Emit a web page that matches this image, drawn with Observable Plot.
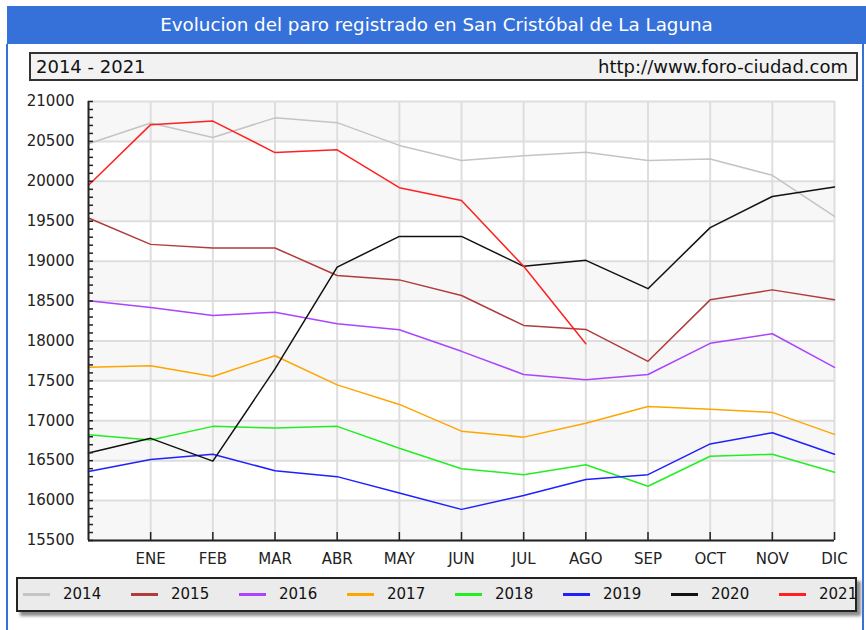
<!DOCTYPE html>
<html><head><meta charset="utf-8">
<script src="https://cdn.jsdelivr.net/npm/d3@7"></script>
<script src="https://cdn.jsdelivr.net/npm/@observablehq/plot@0.6"></script>
<style>
body{margin:0;background:#fff;font-family:"DejaVu Sans",Verdana,sans-serif;}
#wrap{position:relative;width:866px;height:630px;overflow:hidden;background:#fff;}
#bar{position:absolute;left:7px;top:6px;width:859px;height:38px;background:#3671d9;color:#fff;font-size:18.3px;line-height:38px;text-align:center;}
.vb{position:absolute;top:44px;width:2px;height:586px;background:#3671d9;}
#sub{position:absolute;left:29px;top:52px;width:829px;height:29px;box-sizing:border-box;border:2px solid #333;background:#f2f2f2;font-size:18px;color:#111;}
#sub span{position:absolute;top:0;line-height:25px;}
#chart{position:absolute;left:0;top:90px;}
#legend{position:absolute;left:16px;top:577px;width:841px;height:35px;box-sizing:border-box;border:2px solid #222;background:#ebebeb;box-shadow:4px 4px 3px #8a8a8a;}
.item{position:absolute;top:0;height:31px;}
.sw{position:absolute;top:14px;width:27px;height:3px;}
.lt{position:absolute;left:40px;top:0;line-height:31px;font-size:15px;color:#111;}
</style></head>
<body>
<div id="wrap">
  <div id="bar">Evolucion del paro registrado en San Cristóbal de La Laguna</div>
  <div class="vb" style="left:6px"></div>
  <div class="vb" style="left:862px"></div>
  <div id="sub"><span style="left:5px">2014 - 2021</span><span style="right:8px">http://www.foro-ciudad.com</span></div>
  <div id="chart"></div>
  <div id="legend"></div>
</div>
<script>
const months = ["ENE","FEB","MAR","ABR","MAY","JUN","JUL","AGO","SEP","OCT","NOV","DIC"];
const years = ["2014","2015","2016","2017","2018","2019","2020","2021"];
const colors = ["#c4c4c4","#b03c3c","#aa44ff","#ffa500","#22ee22","#2020ff","#111111","#ff2020"];
const yTicks = [15500,16000,16500,17000,17500,18000,18500,19000,19500,20000,20500,21000];

const s2014 = [20470, 20730, 20550, 20795, 20735, 20450, 20260, 20320, 20365, 20260, 20280, 20075, 19560];
const s2015 = [19540, 19210, 19165, 19165, 18820, 18765, 18570, 18195, 18145, 17745, 18515, 18640, 18515];
const s2016 = [18505, 18420, 18320, 18360, 18215, 18140, 17870, 17580, 17515, 17580, 17970, 18090, 17670];
const s2017 = [17670, 17690, 17555, 17815, 17450, 17205, 16870, 16795, 16970, 17180, 17145, 17105, 16830];
const s2018 = [16825, 16760, 16930, 16910, 16930, 16655, 16400, 16325, 16450, 16180, 16555, 16580, 16355];
const s2019 = [16365, 16515, 16580, 16375, 16300, 16095, 15890, 16065, 16265, 16325, 16710, 16850, 16580];
const s2020 = [16595, 16780, 16495, 17650, 18925, 19310, 19310, 18935, 19010, 18655, 19420, 19810, 19930];
const s2021 = [19950, 20710, 20755, 20360, 20395, 19920, 19760, 18935, 17965];

const series = [s2014, s2015, s2016, s2017, s2018, s2019, s2020, s2021];
const data = series.flatMap((s, k) => s.map((v, i) => ({year: years[k], i, v})));
const monthIdx = months.map((m, i) => i + 1);
const bands = [];
for (let k = yTicks.length - 1; k > 0; k -= 2) bands.push({y1: yTicks[k - 1], y2: yTicks[k]});
const minor = d3.range(yTicks[0], yTicks[yTicks.length - 1] + 1, 100);

const chart = Plot.plot({
  width: 866, height: 480,
  marginLeft: 88, marginRight: 32, marginTop: 11, marginBottom: 30,
  style: {fontFamily: "DejaVu Sans, Verdana, sans-serif", fontSize: "15px", color: "#222", background: "transparent", overflow: "visible"},
  x: {domain: [0, 12], axis: null, label: null},
  y: {domain: [yTicks[0], yTicks[yTicks.length - 1]], axis: null, label: null},
  color: {domain: years, range: colors},
  marks: [
    Plot.rect(bands, {x1: 0, x2: 12, y1: "y1", y2: "y2", fill: "#f7f7f7"}),
    Plot.gridY(yTicks, {stroke: "#dedede", strokeOpacity: 1, strokeWidth: 2}),
    Plot.gridX(monthIdx, {stroke: "#dedede", strokeOpacity: 1, strokeWidth: 2}),
    Plot.line(data, {x: "i", y: "v", z: "year", stroke: "year", strokeWidth: 1.5}),
    Plot.axisY(minor, {tickSize: -5, text: null, label: null, stroke: "#222", strokeWidth: 1.5}),
    Plot.axisY(yTicks, {tickSize: 0, tickPadding: 14, label: null, tickFormat: d => String(d), fill: "#222"}),
    Plot.axisX(monthIdx, {tickSize: -8, text: null, label: null, stroke: "#222", strokeWidth: 1.5}),
    Plot.axisX(monthIdx, {tickSize: 0, tickPadding: 13, label: null, tickFormat: i => months[i - 1], fill: "#222"}),
    Plot.ruleX([0], {stroke: "#222", strokeWidth: 2}),
    Plot.ruleY([yTicks[0]], {stroke: "#222", strokeWidth: 2})
  ]
});
document.getElementById("chart").appendChild(chart);

const lg = document.getElementById("legend");
years.forEach((y, k) => {
  const it = document.createElement("div");
  it.className = "item";
  it.style.left = (5 + k * 108) + "px";
  it.innerHTML = `<div class="sw" style="background:${colors[k]}"></div><div class="lt">${y}</div>`;
  lg.appendChild(it);
});
</script>
</body></html>
